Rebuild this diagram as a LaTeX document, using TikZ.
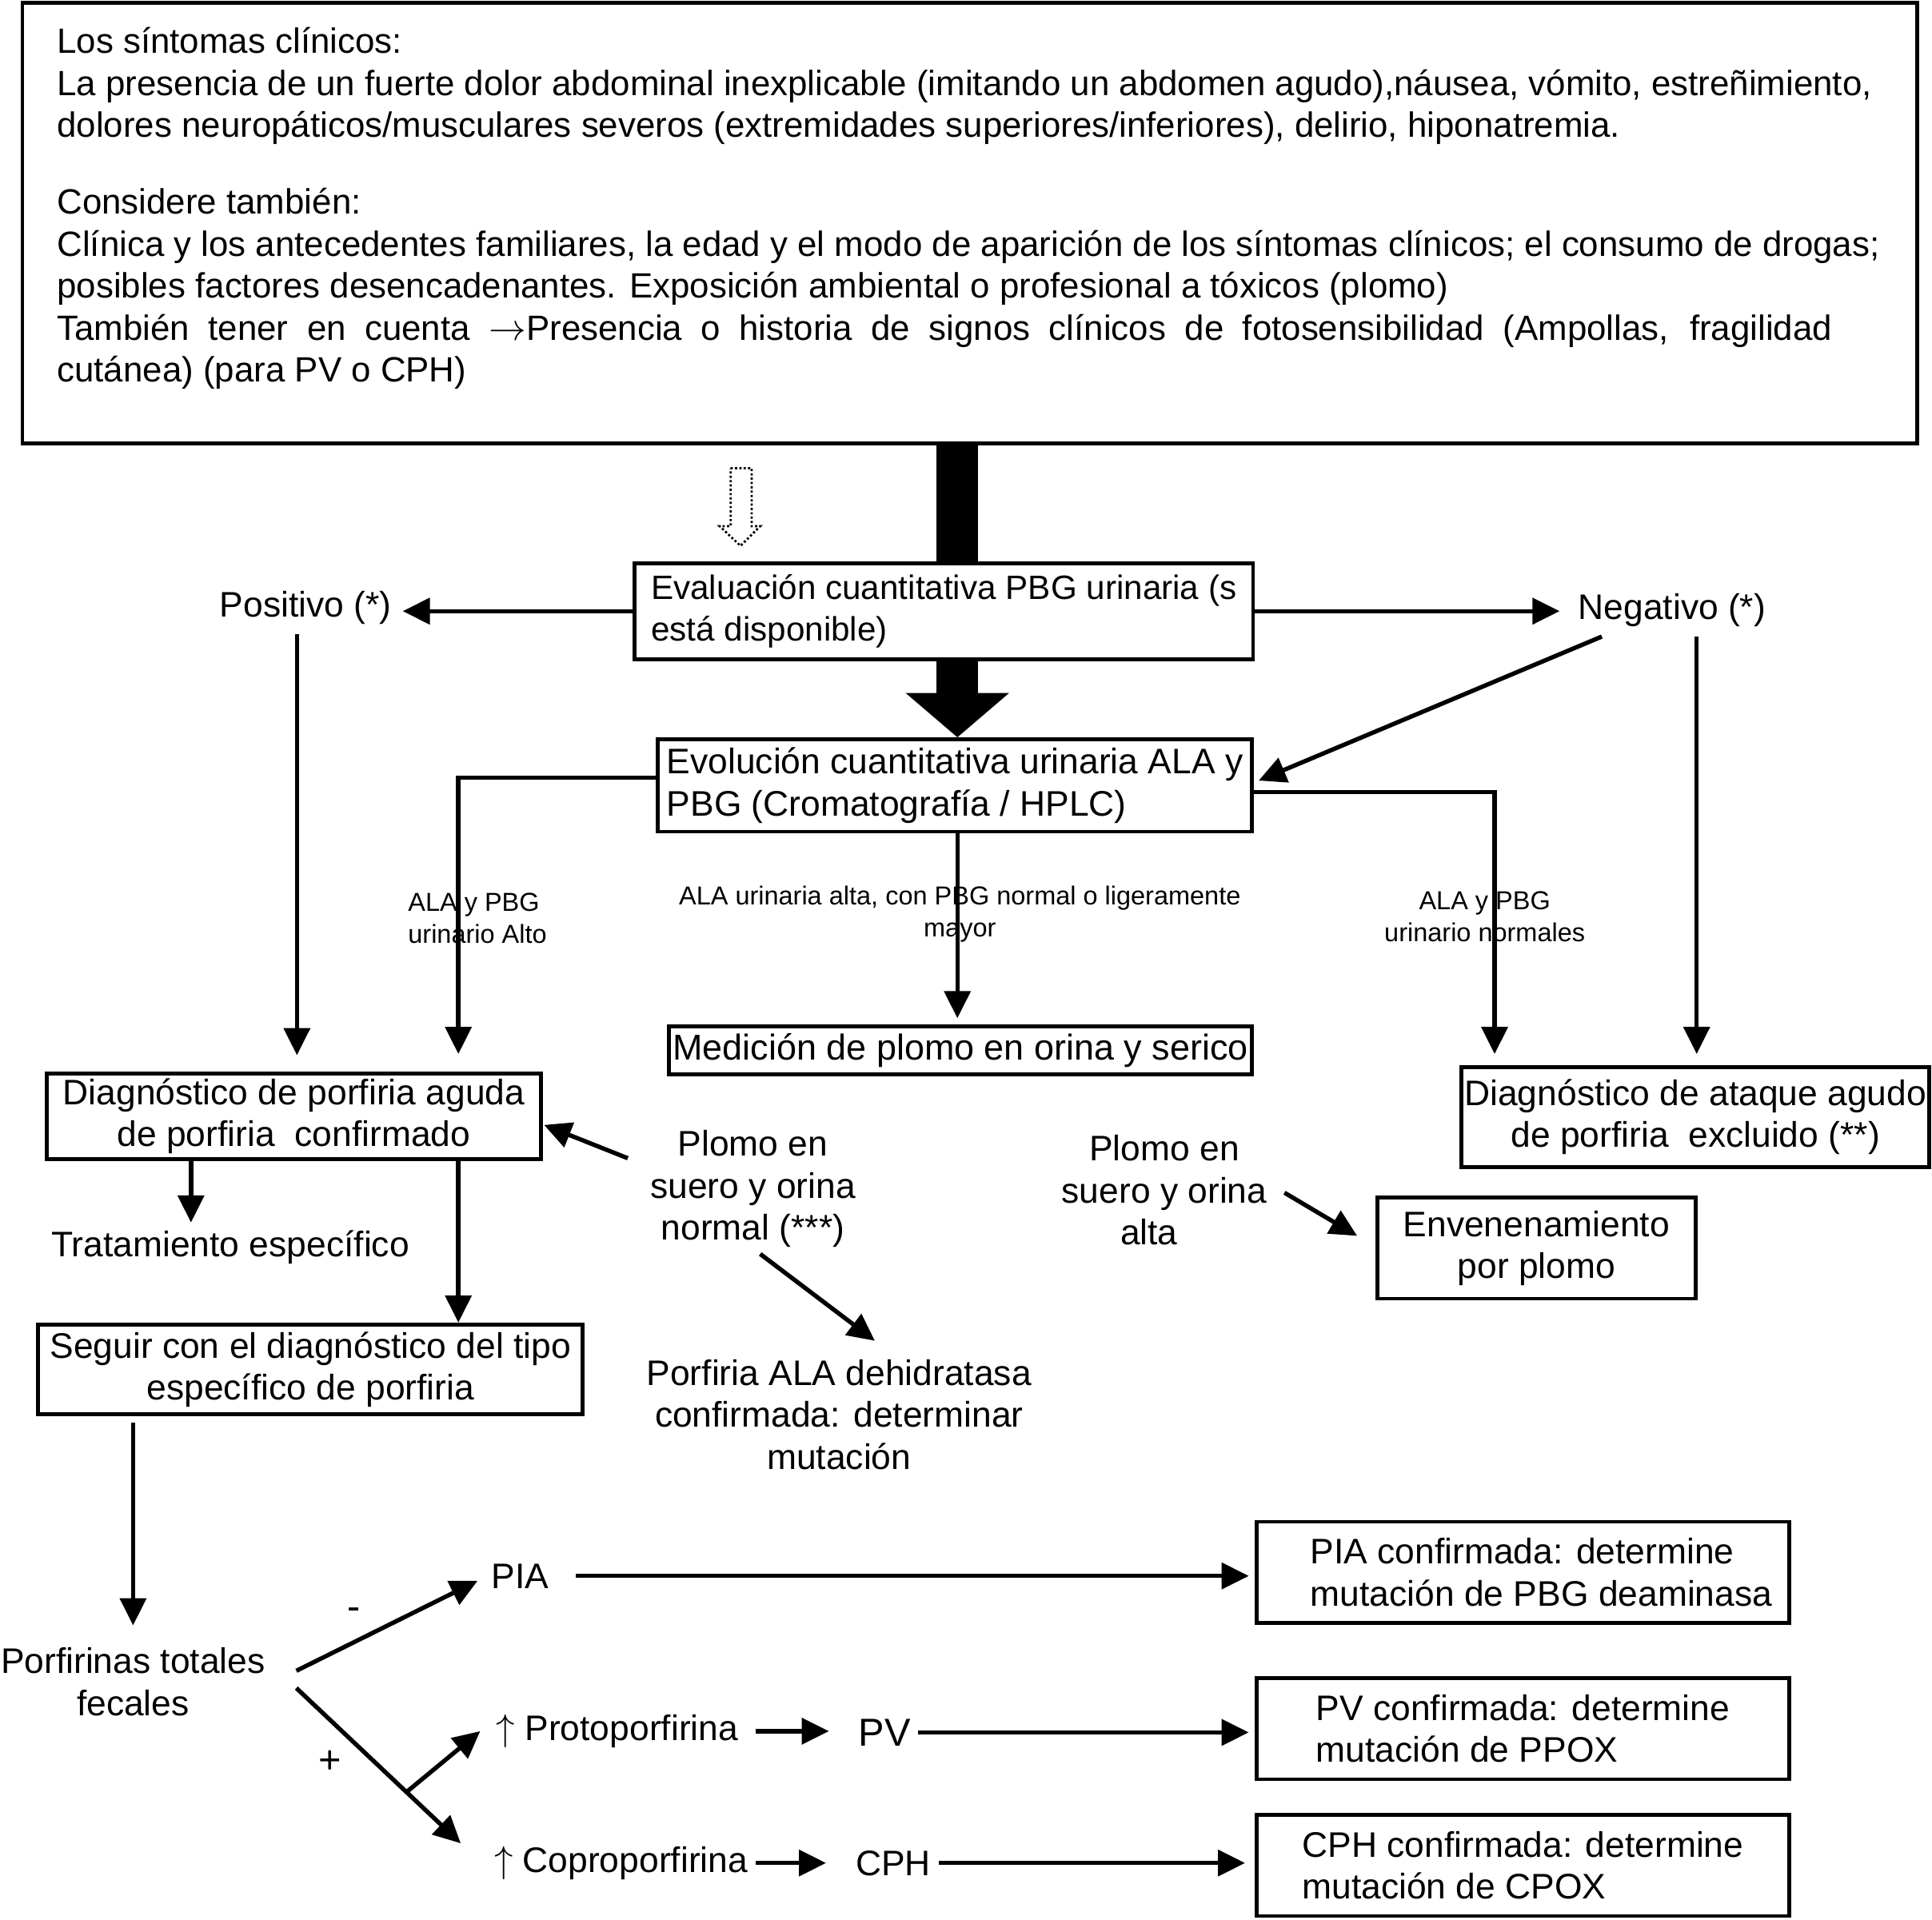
\documentclass[tikz,border=0pt]{standalone}
\usepackage{fontspec}
\setmainfont{Liberation Sans}
\usetikzlibrary{arrows.meta,calc}
\begin{document}
\begin{tikzpicture}[x=0.02cm,y=-0.02cm,
  font=\fontsize{16.4}{19.4}\selectfont,
  every node/.append style={align=center},
  box/.style={draw, line width=1.8pt, inner sep=0pt},
  small/.style={font=\fontsize{12}{14.7}\selectfont},
  arr/.style={line width=2pt, -{Triangle[length=0.44cm,width=0.42cm]}}]
\useasboundingbox (0,0) rectangle (1568,1558);
% boxes
\node[box, minimum width=30.76cm, minimum height=7.16cm] (top) at (787,181) {};
\node[anchor=north west, inner sep=0pt, align=left, font=\fontsize{16.2}{19.4}\selectfont] (toptext) at (46,22)
{Los síntomas clínicos:\\
La presencia de un fuerte dolor abdominal inexplicable (imitando un abdomen agudo),náusea, vómito, estreñimiento,\\
dolores neuropáticos/musculares severos (extremidades superiores/inferiores), delirio, hiponatremia.\\[16pt]
Considere también:\\
Clínica y los antecedentes familiares, la edad y el modo de aparición de los síntomas clínicos; el consumo de drogas;\\
posibles factores desencadenantes. Exposición ambiental o profesional a tóxicos (plomo)\\
\makebox[28.82cm][s]{También tener en cuenta $\rightarrow$Presencia o historia de signos clínicos de fotosensibilidad (Ampollas, fragilidad}\\
cutánea) (para PV o CPH)};
\node[box, minimum width=10.04cm, minimum height=1.56cm, align=left, font=\fontsize{15.6}{19.4}\selectfont] (eval) at (766,496) {Evaluación cuantitativa PBG urinaria (s\\está disponible)};
\node[box, minimum width=9.64cm, minimum height=1.5cm, align=left] (evol) at (775,637.5) {Evolución cuantitativa urinaria ALA y\\PBG (Cromatografía / HPLC)};
\node[box, minimum width=9.46cm, minimum height=0.78cm, font=\fontsize{16.6}{19.4}\selectfont] (med) at (779.5,852.5) {Medición de plomo en orina y serico};
\node[box, minimum width=8.02cm, minimum height=1.4cm] (conf) at (238.5,906) {Diagnóstico de porfiria aguda\\de porfiria\ \ confirmado};
\node[box, minimum width=7.6cm, minimum height=1.62cm] (excl) at (1376,906.5) {Diagnóstico de ataque agudo\\de porfiria\ \ excluido (**)};
\node[box, minimum width=5.16cm, minimum height=1.64cm] (env) at (1247,1013) {Envenenamiento\\por plomo};
\node[box, minimum width=8.84cm, minimum height=1.46cm] (seg) at (252,1111.5) {Seguir con el diagnóstico del tipo\\específico de porfiria};
\node[box, minimum width=8.64cm, minimum height=1.64cm, align=left] (piab) at (1236,1276) {\hspace*{0.6cm}PIA confirmada: determine\\\hspace*{0.6cm}mutación de PBG deaminasa};
\node[box, minimum width=8.64cm, minimum height=1.64cm, align=left] (pvb) at (1236,1403) {PV confirmada: determine\\mutación de PPOX};
\node[box, minimum width=8.64cm, minimum height=1.64cm, align=left] (cphb) at (1236,1514) {CPH confirmada: determine\\mutación de CPOX};
% plain texts
\node (pos) at (248,493) {Positivo (*)};
\node (neg) at (1357,495) {Negativo (*)};
\node (pl1) at (611,965) {Plomo en\\suero y orina\\normal (***)};
\node (pl2) at (945,966) {Plomo en\\suero y orina\\alta\hspace*{0.5cm}};
\node (pala) at (681,1148) {Porfiria ALA dehidratasa\\confirmada: determinar\\mutación};
\node (trat) at (187,1012) {Tratamiento específico};
\node (pft) at (108,1365) {Porfirinas totales\\fecales};
\node (pia) at (422,1279) {PIA};
\node (proto) at (501,1405) {$\uparrow$ Protoporfirina};
\node[font=\fontsize{18}{20}\selectfont] (pv) at (718,1406) {PV};
\node (copro) at (504,1512) {$\uparrow$ Coproporfirina};
\node (cph) at (725,1512) {CPH};
\node[font=\fontsize{18}{20}\selectfont] (minus) at (287,1310) {-};
\node[font=\fontsize{18}{20}\selectfont] (plus) at (268,1430) {+};
\node[small, align=left] (l1) at (387.5,745) {ALA y PBG\\urinario Alto};
\node[small] (l2) at (779,742) {ALA urinaria alta, con PBG normal o ligeramente\\mayor};
\node[small] (l3) at (1205,744) {ALA y PBG\\urinario normales};
% thick arrow
\coordinate (tk) at (777,0);
\draw[line width=0.68cm] (tk |- top.south) -- (tk |- eval.north);
\draw[line width=0.68cm, -{Triangle[length=0.72cm,width=1.64cm]}] (tk |- eval.south) -- (tk |- evol.north);
% dotted hollow arrow
\draw[densely dotted, line width=1pt] (593,380) -- (610,380) -- (610,427) -- (617,427) -- (601,443) -- (584,427) -- (593,427) -- cycle;
% connectors
\draw[arr, shorten >=0.06cm] (eval.west) -- (eval.west -| pos.east);
\draw[arr, shorten >=0.18cm] (eval.east) -- (eval.east -| neg.west);
\coordinate (nd) at ($(neg.south)+(20,2)$);
\draw[arr, shorten >=0.18cm] (nd) -- (nd |- excl.north);
\draw[arr] ($(neg.south)+(-57,2)$) -- ($(evol.east)+(4,-4)$);
\coordinate (px) at ($(pos.south)+(-7,2)$);
\draw[arr, shorten >=0.26cm] (px) -- (px |- conf.north);
\coordinate (cx) at (372,631);
\draw[arr, shorten >=0.28cm] (cx -| evol.west) -- (cx) -- (cx |- conf.north);
\draw[arr, shorten >=0.1cm] (tk |- evol.south) -- (tk |- med.north);
\coordinate (rx) at (1213,643);
\draw[arr, shorten >=0.18cm] (rx -| evol.east) -- (rx) -- (rx |- excl.north);
\draw[arr] ($(pl1.west)+(-12,-25)$) -- ($(conf.east)+(1,7)$);
\draw[arr] ($(pl1.south)+(6,-1)$) -- ($(pala.north)+(29,-9)$);
\draw[arr] ($(pl2.east)+(8,2)$) -- ($(env.west)+(-15,-10)$);
\coordinate (tx) at (155,0);
\draw[arr] (tx |- conf.south) -- (tx |- trat.north);
\draw[arr] (cx |- conf.south) -- (cx |- seg.north);
\coordinate (fx) at (108,0);
\draw[arr, shorten <=0.1cm, shorten >=0.24cm] (fx |- seg.south) -- (fx |- pft.north);
\coordinate (s1) at ($(pft.east)+(19,-9)$);
\coordinate (s2) at ($(pft.east)+(19,5)$);
\coordinate (e2) at ($(copro.west)+(-21,-16)$);
\draw[arr] (s1) -- ($(pia.west)+(-5,4)$);
\draw[arr] (s2) -- (e2);
\draw[arr] ($(s2)!0.67!(e2)$) -- ($(proto.west)+(-7,0)$);
\draw[arr, shorten <=0.32cm, shorten >=0.1cm] (pia.east) -- (pia.east -| piab.west);
\draw[arr, shorten <=0.16cm, shorten >=0.36cm] (proto.east) -- (proto.east -| pv.west);
\draw[arr, shorten >=0.1cm] (pv.east) -- (pv.east -| pvb.west);
\draw[arr, shorten >=0.36cm] (copro.east) -- (copro.east -| cph.west);
\draw[arr, shorten >=0.16cm] (cph.east) -- (cph.east -| cphb.west);
\end{tikzpicture}
\end{document}
